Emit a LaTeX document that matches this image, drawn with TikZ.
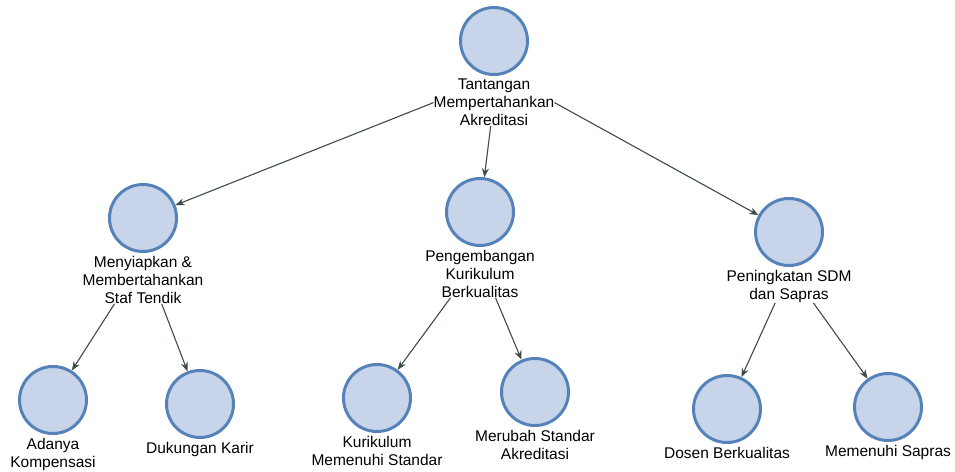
\documentclass[tikz,border=0pt]{standalone}
\usepackage{fontspec}
\setmainfont{Liberation Sans}
\usetikzlibrary{positioning,arrows.meta}
\definecolor{Isi}{HTML}{C7D4E9}
\definecolor{Tepi}{HTML}{5682BA}
\definecolor{Panah}{HTML}{3E4B47}

\begin{document}
\begin{tikzpicture}[x=1pt, y=-1pt,
    bulat/.style={shape=circle, minimum size=67pt, inner sep=0pt, fill=Isi, draw=Tepi, line width=3pt},
    teks/.style={align=center, inner sep=0pt, font=\fontsize{15.5}{18}\selectfont},
    hubung/.style={draw=Panah, line width=1.1pt, -{Stealth[length=9pt, width=7pt]}}]
    \useasboundingbox (0,0) rectangle (955,471);

    \node at (494, 41) (T) [bulat] {};
    \node (Tt) [teks, below=3pt of T] {Tantangan\\Mempertahankan\\Akreditasi};

    \node at (143, 218) (S) [bulat] {};
    \node (St) [teks, below=3pt of S] {Menyiapkan \&\\Membertahankan\\Staf Tendik};
    \node at (480, 212) (K) [bulat] {};
    \node (Kt) [teks, below=3pt of K] {Pengembangan\\Kurikulum\\Berkualitas};
    \node at (789, 232) (P) [bulat] {};
    \node (Pt) [teks, below=3pt of P] {Peningkatan SDM\\dan Sapras};

    \node at (53, 400) (S1) [bulat] {};
    \node (S1t) [teks, below=3pt of S1] {Adanya\\Kompensasi};
    \node at (200, 404) (S2) [bulat] {};
    \node (S2t) [teks, below=3pt of S2] {Dukungan Karir};
    \node at (377, 398) (K1) [bulat] {};
    \node (K1t) [teks, below=3pt of K1] {Kurikulum\\Memenuhi Standar};
    \node at (535, 392) (K2) [bulat] {};
    \node (K2t) [teks, below=3pt of K2] {Merubah Standar\\Akreditasi};
    \node at (727, 409) (P1) [bulat] {};
    \node (P1t) [teks, below=3pt of P1] {Dosen Berkualitas};
    \node at (888, 407) (P2) [bulat] {};
    \node (P2t) [teks, below=3pt of P2] {Memenuhi Sapras};

    % level 1
    \draw[hubung] (Tt.west) -- (S);
    \draw[hubung] (Tt.262) -- (K);
    \draw[hubung] (Tt.east) -- (P);
    % level 2
    \draw[hubung] (St.220) -- (S1);
    \draw[hubung] (St.308) -- (S2);
    \draw[hubung] (Kt.219) -- (K1);
    \draw[hubung] (Kt.303) -- (K2);
    \draw[hubung] (Pt.230) -- (P1);
    \draw[hubung] (Pt.326) -- (P2);
\end{tikzpicture}
\end{document}
